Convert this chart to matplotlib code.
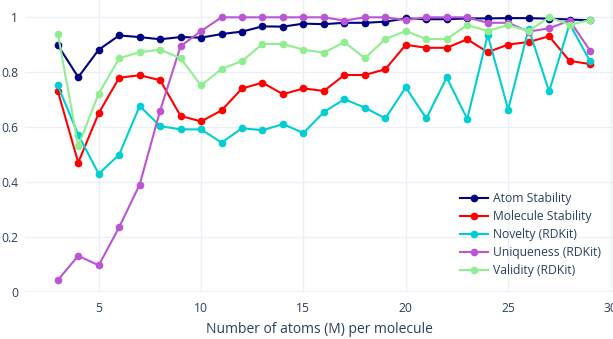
import matplotlib.pyplot as plt

atoms = list(range(3, 30))

atom_stab = [0.899, 0.782, 0.882, 0.934, 0.928, 0.920, 0.928, 0.926, 0.939, 0.948,
             0.967, 0.966, 0.977, 0.975, 0.980, 0.980, 0.984, 0.996, 0.993, 0.993,
             0.996, 0.996, 0.997, 0.997, 0.995, 0.992, 0.989]
mol_stab = [0.732, 0.471, 0.651, 0.780, 0.789, 0.771, 0.641, 0.621, 0.661, 0.741,
            0.762, 0.720, 0.741, 0.732, 0.790, 0.790, 0.811, 0.900, 0.889, 0.889,
            0.920, 0.873, 0.901, 0.910, 0.931, 0.841, 0.830]
novelty = [0.752, 0.573, 0.430, 0.500, 0.677, 0.604, 0.592, 0.592, 0.544, 0.596,
           0.589, 0.611, 0.579, 0.655, 0.702, 0.671, 0.632, 0.745, 0.632, 0.781,
           0.630, 0.936, 0.664, 0.959, 0.730, 0.976, 0.840]
uniqueness = [0.043, 0.132, 0.097, 0.236, 0.391, 0.660, 0.895, 0.950, 1.0, 1.0,
              1.0, 1.0, 1.0, 1.0, 0.988, 1.0, 1.0, 0.990, 1.0, 1.0,
              1.0, 0.980, 0.980, 0.948, 0.960, 0.988, 0.879]
validity = [0.941, 0.532, 0.722, 0.851, 0.873, 0.882, 0.851, 0.752, 0.812, 0.841,
            0.903, 0.903, 0.882, 0.871, 0.910, 0.851, 0.921, 0.950, 0.921, 0.921,
            0.972, 0.950, 0.972, 0.950, 1.0, 0.973, 0.990]

series = [
    ('Atom Stability', atom_stab, '#000080'),
    ('Molecule Stability', mol_stab, '#ff0000'),
    ('Novelty (RDKit)', novelty, '#00ced1'),
    ('Uniqueness (RDKit)', uniqueness, '#ba55d3'),
    ('Validity (RDKit)', validity, '#90ee90'),
]

plt.rcParams['font.family'] = ['Open Sans', 'DejaVu Sans']
txt = '#2a3f5f'
grid = '#ebf0f8'

fig = plt.figure(figsize=(6.13, 3.39), dpi=100)
ax = fig.add_axes([25 / 613, 47 / 339, 1 - 25 / 613, 292 / 339])

for name, vals, col in series:
    ax.plot(atoms, vals, color=col, lw=1.5, marker='o', ms=4.5, label=name, zorder=3)

ax.set_xlim(1.4, 30.12)
ax.set_ylim(0, 1.063)
ax.set_xticks([5, 10, 15, 20, 25, 30])
ax.set_yticks([0, 0.2, 0.4, 0.6, 0.8, 1])
ax.set_yticklabels(['0', '0.2', '0.4', '0.6', '0.8', '1'])
ax.grid(True, color=grid, lw=1)
ax.axhline(0, color=grid, lw=2, zorder=1)
for s in ax.spines.values():
    s.set_visible(False)
ax.tick_params(length=0, labelcolor=txt, labelsize=8.7)
ax.tick_params(axis='x', pad=7)
ax.tick_params(axis='y', pad=5)
ax.set_axisbelow(True)
ax.set_xlabel('Number of atoms (M) per molecule', color=txt, fontsize=10, labelpad=5)

ax.legend(loc='upper left', bbox_to_anchor=(460 / 613, 1 - 192 / 339),
          bbox_transform=fig.transFigure, frameon=False, fontsize=8.7,
          handlelength=2.3, handletextpad=0.4, labelspacing=0.42,
          borderpad=0, borderaxespad=0, labelcolor=txt)

fig.savefig('out.png', dpi=100, facecolor='white')
plt.close()
